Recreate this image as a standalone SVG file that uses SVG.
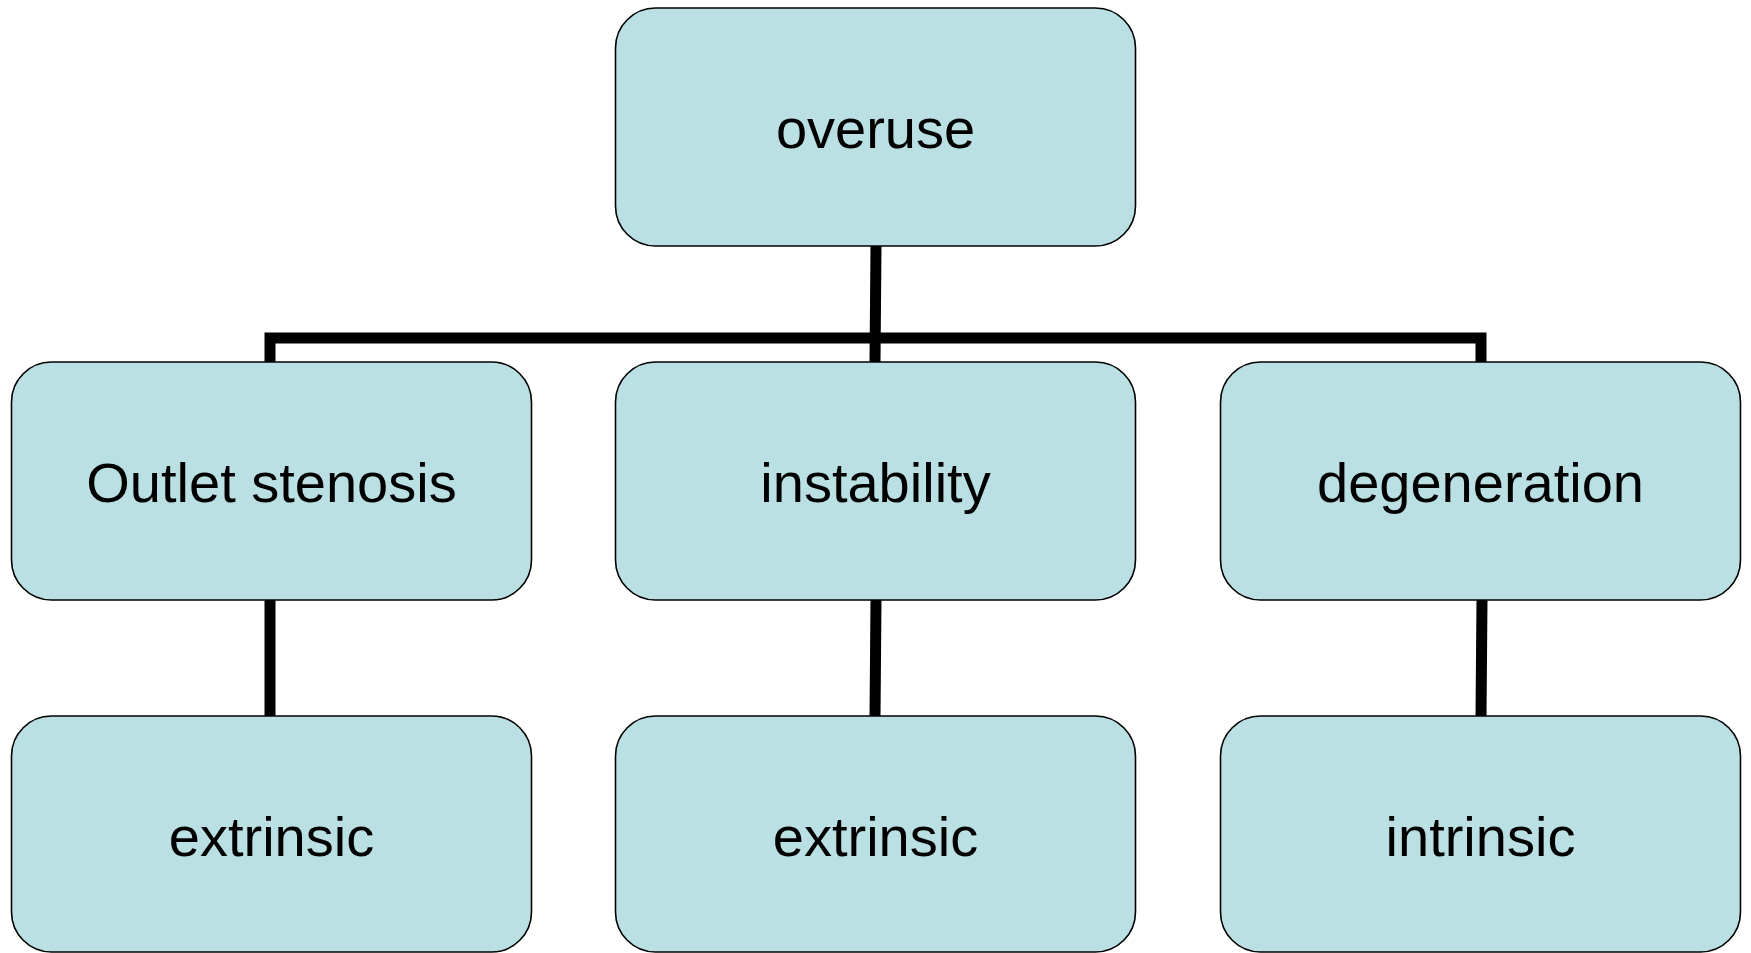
<svg xmlns="http://www.w3.org/2000/svg" width="1751" height="953" viewBox="0 0 1751 953">
<style>
.box{fill:#BAE0E3;stroke:#000;stroke-width:1.6}
.lbl{font-family:"Liberation Sans",Arial,sans-serif;font-size:56px;fill:#000;text-anchor:middle}
.con{fill:none;stroke:#000;stroke-width:11;stroke-linecap:butt;stroke-linejoin:miter}
</style>
<rect width="1751" height="953" fill="#fff"/>
<g id="connectors">
<line class="con" x1="876" y1="246" x2="875" y2="362"/>
<polyline class="con" points="270,362 270,338 1481,338 1481,362"/>
<line class="con" x1="270" y1="600" x2="270" y2="716"/>
<line class="con" x1="876" y1="600" x2="875" y2="716"/>
<line class="con" x1="1482" y1="600" x2="1481" y2="716"/>
</g>
<g id="n-overuse"><rect class="box" x="615.5" y="8" width="520" height="238" rx="40"/><text class="lbl" x="875.5" y="148">overuse</text></g>
<g id="n-outlet"><rect class="box" x="11.5" y="362" width="520" height="238" rx="40"/><text class="lbl" x="271.5" y="502">Outlet stenosis</text></g>
<g id="n-instability"><rect class="box" x="615.5" y="362" width="520" height="238" rx="40"/><text class="lbl" x="875.5" y="502">instability</text></g>
<g id="n-degeneration"><rect class="box" x="1220.5" y="362" width="520" height="238" rx="40"/><text class="lbl" x="1480.5" y="502">degeneration</text></g>
<g id="n-extrinsic1"><rect class="box" x="11.5" y="716" width="520" height="236" rx="40"/><text class="lbl" x="271.5" y="856">extrinsic</text></g>
<g id="n-extrinsic2"><rect class="box" x="615.5" y="716" width="520" height="236" rx="40"/><text class="lbl" x="875.5" y="856">extrinsic</text></g>
<g id="n-intrinsic"><rect class="box" x="1220.5" y="716" width="520" height="236" rx="40"/><text class="lbl" x="1480.5" y="856">intrinsic</text></g>
</svg>
